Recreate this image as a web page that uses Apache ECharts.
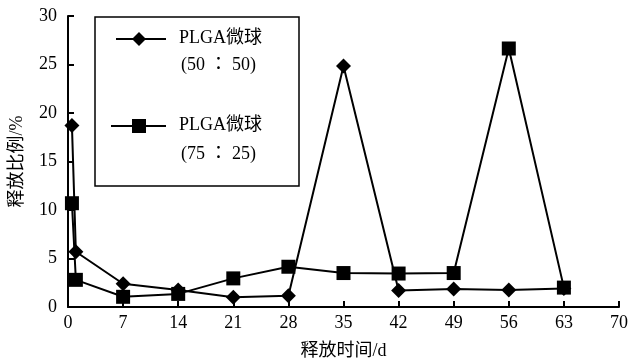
<!DOCTYPE html>
<html>
<head>
<meta charset="utf-8">
<script src="https://cdn.jsdelivr.net/npm/echarts@6/dist/echarts.min.js"></script>
<style>html,body{margin:0;padding:0;background:#fff}#c{width:629px;height:358px}</style>
</head>
<body>
<div id="c"></div>
<script>
var days = [0.5, 1, 7, 14, 21, 28, 35, 42, 49, 56, 63];
var series5050 = [18.7, 5.7, 2.4, 1.75, 1.0, 1.15, 24.85, 1.7, 1.85, 1.75, 1.9];
var series7525 = [10.7, 2.8, 1.05, 1.35, 2.95, 4.15, 3.5, 3.45, 3.5, 26.65, 2.0];
var seriesNames = ['PLGA微球（50 ： 50）', 'PLGA微球（75 ： 25）'];
var xTicks = [0, 7, 14, 21, 28, 35, 42, 49, 56, 63, 70];
var yTicks = [0, 5, 10, 15, 20, 25, 30];

var FONT = '"Liberation Serif", "Times New Roman", "Noto Sans CJK SC", serif';
var LFONT = '"Liberation Serif", "Times New Roman", "Noto Sans CJK TC", serif';
function pairs(xs, ys) { return xs.map(function (x, i) { return [x, ys[i]]; }); }

var chart = echarts.init(document.getElementById('c'), null, {renderer: 'canvas'});
var axisCommon = {
  axisLine: {show: true, onZero: false, lineStyle: {color: '#000', width: 2}},
  axisTick: {show: true, inside: true, length: 6, lineStyle: {color: '#000', width: 2}},
  splitLine: {show: false},
  axisLabel: {color: '#000', fontFamily: FONT, fontSize: 18},
  nameTextStyle: {color: '#000', fontFamily: FONT, fontSize: 18}
};
chart.setOption({
  animation: false,
  backgroundColor: '#fff',
  grid: {left: 68, right: 10, top: 16, bottom: 51, containLabel: false, outerBoundsMode: 'none'},
  xAxis: Object.assign({}, axisCommon, {
    type: 'value', min: xTicks[0], max: xTicks[xTicks.length - 1], interval: 7,
    name: '释放时间/d', nameLocation: 'middle', nameGap: 35,
    axisLabel: Object.assign({}, axisCommon.axisLabel, {margin: 7})
  }),
  yAxis: Object.assign({}, axisCommon, {
    type: 'value', min: yTicks[0], max: yTicks[yTicks.length - 1], interval: 5,
    name: '释放比例/%', nameLocation: 'middle', nameGap: 42,
    axisLabel: Object.assign({}, axisCommon.axisLabel, {margin: 11})
  }),
  series: [
    {
      name: seriesNames[0], type: 'line', data: pairs(days, series5050),
      symbol: 'diamond', symbolSize: 15, showAllSymbol: true,
      lineStyle: {color: '#000', width: 2}, itemStyle: {color: '#000'}
    },
    {
      name: seriesNames[1], type: 'line', data: pairs(days, series7525),
      symbol: 'rect', symbolSize: 14, showAllSymbol: true,
      lineStyle: {color: '#000', width: 2}, itemStyle: {color: '#000'}
    }
  ],
  graphic: [
    {type: 'rect', shape: {x: 95, y: 17, width: 204, height: 169}, style: {fill: '#fff', stroke: '#000', lineWidth: 1.5}, z: 10},
    {type: 'line', shape: {x1: 116, y1: 39, x2: 166, y2: 39}, style: {stroke: '#000', lineWidth: 2}, z: 11},
    {type: 'polygon', shape: {points: [[139, 32], [146, 39], [139, 46], [132, 39]]}, style: {fill: '#000'}, z: 12},
    {type: 'text', left: 179, top: 29, style: {text: 'PLGA微球', fill: '#000', font: '18px ' + LFONT}, z: 12},
    {type: 'text', left: 181, top: 56, style: {text: '(50 ： 50)', fill: '#000', font: '18px ' + LFONT}, z: 12},
    {type: 'line', shape: {x1: 111, y1: 126, x2: 166, y2: 126}, style: {stroke: '#000', lineWidth: 2}, z: 11},
    {type: 'rect', shape: {x: 132, y: 119, width: 14, height: 14}, style: {fill: '#000'}, z: 12},
    {type: 'text', left: 179, top: 116, style: {text: 'PLGA微球', fill: '#000', font: '18px ' + LFONT}, z: 12},
    {type: 'text', left: 181, top: 145, style: {text: '(75 ： 25)', fill: '#000', font: '18px ' + LFONT}, z: 12}
  ]
});
</script>
</body>
</html>
